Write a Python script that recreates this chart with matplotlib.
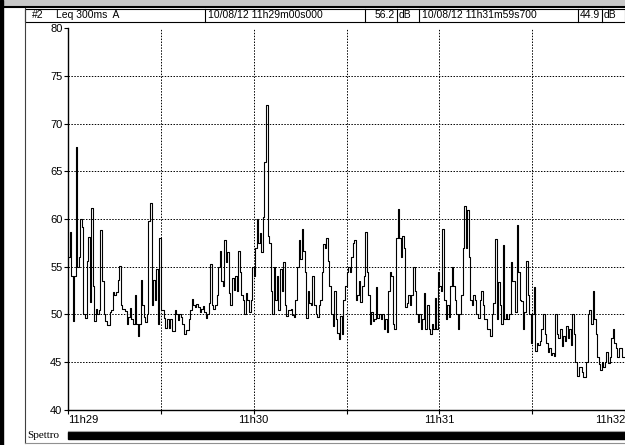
import numpy as np
import matplotlib
matplotlib.use('Agg')
import matplotlib.pyplot as plt
from matplotlib.patches import Rectangle
from matplotlib.lines import Line2D

# Leq 300ms A (un valore ogni mezzo secondo, dB)
passo = 0.5
livelli = [
    56, 58.6, 54, 49.3, 54, 67.5, 55, 56, 60, 59.2,
    50, 49.6, 55.6, 58.1, 51.3, 61.2, 53, 49.3, 50.6, 50,
    50.5, 58.8, 53.5, 50, 49.3, 48.9, 48.9, 50.3, 50.5, 52.4,
    52, 52.4, 53.6, 55.1, 51, 50.6, 50.6, 50.4, 49, 49.7,
    50.7, 49.5, 49, 52, 49, 47.8, 49, 53.6, 51, 49.7,
    49.2, 50, 59.8, 61.7, 51, 53.6, 51.5, 54.8, 49, 58,
    50.5, 50.5, 49.6, 48.6, 49.5, 48.6, 49.5, 48.3, 48.3, 50.5,
    50, 49.4, 50, 49.7, 49, 48, 48.4, 48.4, 49.5, 50.5,
    51.6, 51, 50.8, 51.1, 50.8, 50.3, 50.6, 50.9, 50.3, 49.6,
    50, 51.2, 55.3, 51, 50.6, 51, 52, 55, 56.6, 53.5,
    53, 57.8, 55.5, 56.5,
    52.3, 51, 53.8, 52.6, 54, 52.5, 56.6, 54.5, 52, 51.5,
    50, 52.3, 51.5, 50.3, 51.5, 55, 54, 57, 60, 57.5,
    58.5, 56.5, 60.2, 66, 71.9, 58.2, 57.5, 52.5, 50, 55,
    51.5, 54, 50.5, 54.8, 52.5, 55.5, 51, 49.8, 50.5, 50.5,
    50.6, 49.9, 49.7, 51.5, 55, 57.8, 55.8, 59, 56.6, 54.5,
    49.6, 52.5, 51.2, 51, 54, 51, 50, 49.7, 51, 51.5,
    54.4, 57.4, 57, 58, 55.6, 53, 50, 48.8, 52.5, 49.5,
    48.1, 47.4, 49.8, 48, 51.5, 53, 54.5, 55, 54.5, 56,
    57.5, 57.8, 51.5, 52, 53.5, 51.3, 53, 54, 58.6, 54.5,
    52, 49, 50.3, 49.3, 49.5, 52.9, 49.6, 50, 49.5, 50,
    48.5, 49.5, 48.2, 52.5, 54.5, 54, 49, 48.5, 58, 61,
    58, 56,
    58.2, 57, 50.8, 51.2, 52, 51, 52, 55, 52.5, 50,
    49.2, 50, 48.5, 49.5, 52.2, 48.5, 51, 48.5, 48, 49,
    48.5, 51.7, 48.5, 54.5, 53, 52.5, 59, 51.5, 49.5, 51,
    49.7, 53, 55, 53, 51.5, 50, 48.5, 50, 52, 57,
    61.4, 57, 60.9, 56, 51.5, 51, 52, 51.5, 50, 49.6,
    51.5, 52.5, 51, 49.5, 49.5, 48.5, 48.5, 47.7, 50, 51.2,
    57.9, 49.5, 53.4, 51, 49, 57.3, 49.5, 50, 49.5, 50,
    55.5, 53.5,
    53.5, 50.3, 59.4, 54.5, 51.5, 51.4, 48.5, 50.3, 55.6, 52,
    50, 47, 50, 52.9, 46.2, 47, 46.8, 47.2, 48.5, 50,
    48, 47, 46.1, 46.5, 45.8, 46, 45.7, 50, 48, 47.5,
    48.5, 46.7, 47.8, 47.2, 48.8, 47.5, 48.5, 46.8, 50, 48,
    45, 43.6, 44.5, 44.5, 44, 43.5, 43.5, 45, 50, 50.5,
    49, 52.5, 49.5, 48, 45.5, 44.8, 44.2, 45, 44.5, 45,
    46.1, 44.9, 45.5, 47.5, 48.5, 47, 46.5, 45.5, 46.5, 46.5,
    45.5, 45.5,
]

tick_x = [0, 30, 60, 90, 120, 150, 180]
etichette_x = {0: '11h29', 60: '11h30', 120: '11h31', 180: '11h32'}
tick_y = [40, 45, 50, 55, 60, 65, 70, 75, 80]

canale = '#2'
misura = 'Leq 300ms  A'
inizio = '10/08/12 11h29m00s000'
valore_inizio = '56.2'
fine = '10/08/12 11h31m59s700'
valore_fine = '44.9'

W, H = 625, 445
plt.rcParams['font.family'] = ['Liberation Sans Narrow', 'Liberation Sans', 'DejaVu Sans']


def fx(x):
    return x / W


def fy(y):
    return 1 - y / H


fig = plt.figure(figsize=(W / 100, H / 100), dpi=100)

# cornice e barra superiore
fig.patches.append(Rectangle((0, fy(6)), 1, 6 / H, transform=fig.transFigure,
                             color='#c8c8c8', zorder=0))
fig.lines.append(Line2D([0, 1], [fy(7), fy(7)], transform=fig.transFigure,
                        color='black', lw=1.5))
fig.patches.append(Rectangle((0, 0), fx(3), 1, transform=fig.transFigure,
                             color='black'))
fig.lines.append(Line2D([fx(25), fx(25)], [fy(8), fy(443)],
                        transform=fig.transFigure, color='#404040', lw=0.8))
fig.lines.append(Line2D([fx(25), 1], [fy(443), fy(443)],
                        transform=fig.transFigure, color='#909090', lw=0.8))

# intestazione
fig.patches.append(Rectangle((fx(25), fy(22)), 1 - fx(25), 13 / H,
                             transform=fig.transFigure, fill=False,
                             edgecolor='black', lw=0.8))
for xs in [205, 365, 397, 419, 578, 602]:
    fig.lines.append(Line2D([fx(xs), fx(xs)], [fy(9), fy(22)],
                            transform=fig.transFigure, color='black', lw=0.8))
yh = fy(15.5)
fig.text(fx(32), yh, canale, fontsize=7.5, va='center')
fig.text(fx(56), yh, misura, fontsize=7.5, va='center')
fig.text(fx(208), yh, inizio, fontsize=7.5, va='center')
fig.text(fx(395), yh, valore_inizio, fontsize=7.5, va='center', ha='right')
fig.text(fx(399), yh, 'dB', fontsize=7.5, va='center')
fig.text(fx(422), yh, fine, fontsize=7.5, va='center')
fig.text(fx(600), yh, valore_fine, fontsize=7.5, va='center', ha='right')
fig.text(fx(604), yh, 'dB', fontsize=7.5, va='center')

# grafico
ax = fig.add_axes([fx(68), fy(410), 1 - fx(68), (410 - 28) / H])
t = np.arange(len(livelli) + 1) * passo
ax.step(t, livelli + [livelli[-1]], where='post', color='black', lw=0.8)

ax.set_xlim(0, 180)
ax.set_ylim(40, 80)
ax.set_xticks(tick_x)
ax.set_xticklabels([''] * len(tick_x))
ax.set_yticks(tick_y)
ax.set_yticklabels([str(v) for v in tick_y], fontsize=8)
ax.tick_params(direction='out', length=3, width=0.8, pad=1)
for s in ['top', 'right']:
    ax.spines[s].set_visible(False)
for s in ['left', 'bottom']:
    ax.spines[s].set_linewidth(1.0)

for v in tick_y[1:-1]:
    ax.axhline(v, color='black', lw=0.7, ls=(0, (1.5, 1.5)), zorder=0)
for v in tick_x[1:-1]:
    ax.axvline(v, color='black', lw=0.7, ls=(0, (1.5, 1.5)), zorder=0)

for v, lab in etichette_x.items():
    ha = 'center'
    if v == 0:
        ha = 'left'
    if v == 180:
        ha = 'right'
    ax.text(v, -0.012, lab, transform=ax.get_xaxis_transform(), fontsize=8,
            ha=ha, va='top')

# barra spettro
fig.text(fx(27), fy(436), 'Spettro', fontsize=8, va='center',
         family=['Liberation Serif', 'DejaVu Serif'])
fig.patches.append(Rectangle((fx(68), fy(439)), 1 - fx(68), 7 / H,
                             transform=fig.transFigure, color='black'))
fig.lines.append(Line2D([fx(68), 1], [fy(431), fy(431)],
                        transform=fig.transFigure, color='#a0a0a0', lw=0.8))

fig.savefig('out.png', dpi=100)
